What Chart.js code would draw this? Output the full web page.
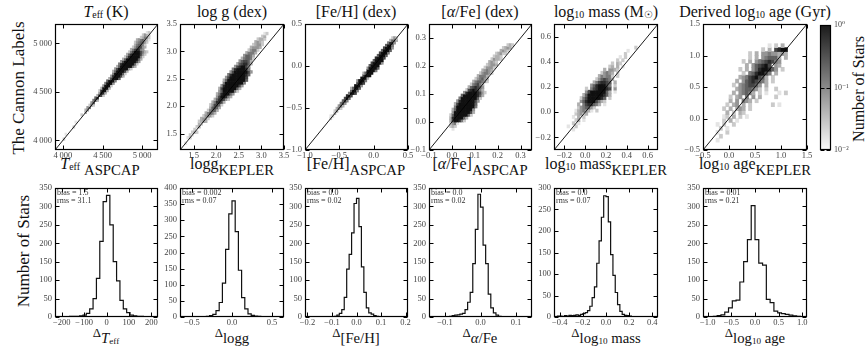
<!DOCTYPE html>
<html>
<head>
<meta charset="utf-8">
<script src="https://cdn.jsdelivr.net/npm/chart.js@4.4.1/dist/chart.umd.min.js"></script>
<style>
  body { margin: 0; background: #fff; }
  #page { position: relative; width: 866px; height: 354px; overflow: hidden; font-family: "Liberation Serif", "DejaVu Serif", serif; color: #111; }
  .box { position: absolute; }
  .t { position: absolute; transform: translateX(-50%); white-space: nowrap; font-size: 16px; line-height: 16px; }
  .v { position: absolute; transform: translate(-50%, -50%) rotate(-90deg); white-space: nowrap; font-size: 17px; line-height: 17px; }
  .note { position: absolute; font-size: 8px; line-height: 8px; color: #333; white-space: nowrap; }
  .sm { font-size: 0.62em; vertical-align: -0.12em; }
  .lg { font-size: 0.92em; vertical-align: -0.42em; }
  .d { font-size: 0.8em; }
</style>
</head>
<body>
<div id="page">
  <!-- titles -->
  <div class="t" style="left:106px;top:4px"><i>T</i><span class="sm">eff</span>&thinsp;(K)</div>
  <div class="t" style="left:232px;top:4px">log g (dex)</div>
  <div class="t" style="left:356px;top:4px">[Fe/H] (dex)</div>
  <div class="t" style="left:480px;top:4px">[<i>α</i>/Fe] (dex)</div>
  <div class="t" style="left:606px;top:4px">log<span class="sm">10</span> mass (M<span class="sm">☉</span>)</div>
  <div class="t" style="left:755px;top:4px">Derived log<span class="sm">10</span> age (Gyr)</div>

  <!-- top x labels -->
  <div class="t" style="left:100px;top:156px"><i>T</i><span class="sm">eff</span> <span class="lg">ASPCAP</span></div>
  <div class="t" style="left:232px;top:156px">logg<span class="lg">KEPLER</span></div>
  <div class="t" style="left:356px;top:156px">[Fe/H]<span class="lg">ASPCAP</span></div>
  <div class="t" style="left:480px;top:156px">[<i>α</i>/Fe]<span class="lg">ASPCAP</span></div>
  <div class="t" style="left:606px;top:156px">log<span class="sm">10</span> mass<span class="lg">KEPLER</span></div>
  <div class="t" style="left:755px;top:156px">log<span class="sm">10</span> age<span class="lg">KEPLER</span></div>

  <!-- bottom x labels -->
  <div class="t" style="left:106px;top:324px"><span class="d">Δ</span><span class="lg"><i>T</i><span class="sm">eff</span></span></div>
  <div class="t" style="left:232px;top:324px"><span class="d">Δ</span><span class="lg">logg</span></div>
  <div class="t" style="left:356px;top:324px"><span class="d">Δ</span><span class="lg">[Fe/H]</span></div>
  <div class="t" style="left:480px;top:324px"><span class="d">Δ</span><span class="lg"><i>α</i>/Fe</span></div>
  <div class="t" style="left:606px;top:324px"><span class="d">Δ</span><span class="lg">log<span class="sm">10</span> mass</span></div>
  <div class="t" style="left:755px;top:324px"><span class="d">Δ</span><span class="lg">log<span class="sm">10</span> age</span></div>

  <div class="v" style="left:18px;top:88px">The Cannon Labels</div>
  <div class="v" style="left:23px;top:251px">Number of Stars</div>
  <div class="v" style="left:858px;top:89px;font-size:16px">Number of Stars</div>
</div>
<script>
// ---------- top row: 2D histograms (runs: [yBin, firstXBin, levels 1-9, ' ' = empty]) ----------
const tEffRange = [3900, 5200], tEffBins = 52, tEffTicks = [4000, 4500, 5000];
const tEffRuns = [
  [4, 4, "2"], [6, 5, "1"], [9, 9, "2"], [11, 10, "1"], [14, 13, "2"], [15, 15, "3"],
  [16, 15, "34"], [17, 16, "45"], [18, 17, "252"], [19, 18, "46"], [20, 19, "573"], [21, 20, "68"],
  [22, 21, "3872"], [23, 22, "4983"], [24, 22, "28993"], [25, 23, "39993"], [26, 24, "49992"],
  [27, 25, "59994"], [28, 26, "69995"], [29, 27, "379996"], [30, 28, "4899973"], [31, 29, "5999962"],
  [32, 29, "36999973"], [33, 30, "479999942"], [34, 31, "3699999953"], [35, 32, "5899999962"],
  [36, 33, "4799999974"], [37, 34, "3699999963"], [38, 35, "2589999952"], [39, 36, "3689999742"],
  [40, 37, "2579997532"], [41, 38, "3578854"], [42, 39, "2467743"], [43, 40, "356652"],
  [44, 40, "2456642"], [45, 41, "3456431"], [46, 43, "23542"], [47, 44, "2432"], [48, 46, "12"]
];
const loggRange = [1.2, 3.5], loggBins = 46, loggTicks = [1.5, 2.0, 2.5, 3.0, 3.5];
const loggRuns = [
  [2, 2, "1"], [4, 3, "12"], [5, 4, "21"], [6, 5, "232"], [7, 6, "2"], [8, 7, "23"], [9, 8, "32"],
  [10, 8, "2343"], [11, 9, "3442"], [12, 10, "24542"], [13, 11, "35653"], [14, 12, "25663"],
  [15, 13, "36763"], [16, 13, "247762"], [17, 14, "358873"], [18, 15, "3688742"], [19, 16, "4799853"],
  [20, 16, "35899964"], [21, 17, "469999952"], [22, 17, "3799999963"], [23, 18, "4899999974"],
  [24, 19, "5999999995"], [25, 19, "36999999996"], [26, 20, "4799999997"], [27, 21, "5899999986"],
  [28, 22, "4799999974"], [29, 23, "58999985"], [30, 24, "4789974"], [31, 25, "3678863"],
  [32, 26, "467763"], [33, 27, "356652"], [34, 28, "46653"], [35, 29, "35553"], [36, 30, "24552"],
  [37, 31, "34443"], [38, 32, "23442"], [39, 33, "3432"], [40, 34, "2332"], [41, 36, "23"], [42, 37, "12"]
];
const fehRange = [-1.0, 0.5], fehBins = 50, fehTicks = [-1.0, -0.5, 0.0, 0.5];
const fehRuns = [
  [12, 12, "2"], [13, 12, "12"], [14, 14, "3"], [15, 14, "24"], [16, 15, "352"], [17, 16, "463"],
  [18, 17, "574"], [19, 18, "685"], [20, 19, "796"], [21, 20, "897"], [22, 21, "5997"], [23, 22, "6995"],
  [24, 22, "36996"], [25, 24, "9994"], [26, 25, "7997"], [27, 25, "49995"], [28, 27, "9993"],
  [29, 28, "7999"], [30, 28, "36999"], [31, 30, "99995"], [32, 30, "499996"], [33, 31, "69999"],
  [34, 32, "799994"], [35, 33, "69999"], [36, 34, "89997"], [37, 35, "69996"], [38, 36, "79995"],
  [39, 37, "69996"], [40, 38, "79994"], [41, 39, "6995"], [42, 40, "5884"], [43, 41, "3663"], [44, 42, "242"]
];
const alphaRange = [-0.1, 0.35], alphaBins = 45, alphaTicks = [-0.1, 0.0, 0.1, 0.2, 0.3];
const alphaRuns = [
  [7, 10, "1"], [8, 9, "232"], [9, 9, "2451"], [10, 9, "3799852"], [11, 9, "38999963"],
  [12, 9, "2699999962"], [13, 10, "4999999973"], [14, 10, "3699999994"], [15, 11, "5999999995"],
  [16, 11, "3799999996"], [17, 12, "4899999974"], [18, 13, "5999999962"], [19, 14, "6999999863"],
  [20, 15, "4899998742"], [21, 16, "27898753"], [22, 17, "3678764"], [23, 18, "256753"],
  [24, 19, "3566542"], [25, 20, "245643"], [26, 21, "35553"], [27, 22, "245542"], [28, 23, "34543"],
  [29, 24, "24442"], [30, 25, "23443"], [31, 26, "3432"], [32, 27, "24332"], [33, 28, "2332"],
  [34, 29, "23422"], [35, 31, "3432"], [36, 32, "2343"], [37, 34, "232"]
];
const massRange = [-0.3, 0.7], massBins = 40, massTicks = [-0.2, 0.0, 0.2, 0.4, 0.6];
const massRuns = [
  [6, 7, "1"], [7, 5, "1  2"], [8, 7, "2 1"], [9, 8, "23 1"], [10, 7, "1 3 2"], [11, 8, "23423"],
  [12, 8, "1345431 2"], [13, 9, "2456642"], [14, 9, "3 5788653 1"], [15, 10, "4689997532"],
  [16, 10, "2579999986 2"], [17, 11, "36999999863"], [18, 12, "4799999963 1"], [19, 12, "2 57899987 4"],
  [20, 14, "46899975 2"], [21, 15, "3578876 3"], [22, 16, "2467653"], [23, 17, "354552 2"],
  [24, 18, "24543 2"], [25, 19, "3 4432"], [26, 21, "23 3 1"], [27, 22, "2 32"], [28, 24, "2 2"],
  [29, 25, "1 2"], [30, 27, "2"], [31, 28, "1"], [32, 31, "2"]
];
const ageRange = [-0.5, 1.5], ageBins = 32, ageTicks = [-0.5, 0.0, 0.5, 1.0, 1.5];
const ageRuns = [
  [2, 4, "1"], [3, 5, "2"], [4, 4, "1  2"], [5, 5, "2 1"], [6, 4, "1 2  2"], [7, 6, "2 3 1"],
  [8, 6, "12 3 2 1"], [9, 7, "3 2 32"], [10, 6, "2 3 343 2"], [11, 7, "2 34 3 2"], [11, 21, "2 1"],
  [12, 8, "3 4 543 2"], [13, 8, "2 34 5 4 3"], [13, 22, "2"], [14, 9, "3 45653 2 1"], [14, 23, "1 2"],
  [15, 10, "34566542 2"], [15, 22, "2"], [16, 9, "2 4567764 3"], [17, 10, "3 46787653 2"],
  [18, 11, "345789763 2"], [19, 12, "2 5689975 3"], [20, 11, "2 3 46899864 2"], [21, 13, "3 467897 43"],
  [22, 12, "2 3 45678754"], [23, 14, "2 3 456663 3"], [24, 14, "2 3 44544343"], [25, 18, "2 3 7899"],
  [26, 20, "1 2 3"]
];

// ---------- bottom row: residual histograms ----------
const dTeffStart = -225, dTeffWidth = 15, dTeffTicks = [-200, -100, 0, 100, 200];
const dTeffCounts = [0, 0, 0, 1, 2, 2, 2, 3, 5, 10, 22, 50, 105, 205, 313, 330, 250, 150, 98, 45, 22, 12, 5, 3, 2, 2, 1, 1, 1, 0];
const dLoggStart = -0.64, dLoggWidth = 0.04, dLoggTicks = [-0.5, 0.0, 0.5];
const dLoggCounts = [0, 0, 0, 0, 0, 0, 0, 1, 2, 4, 8, 20, 45, 105, 210, 320, 360, 265, 145, 60, 25, 10, 5, 3, 2, 1, 1, 0, 0, 0, 0, 0];
const dFehStart = -0.21, dFehWidth = 0.01, dFehTicks = [-0.2, -0.1, 0.0, 0.1, 0.2];
const dFehCounts = [0, 0, 0, 0, 0, 0, 0, 0, 0, 0, 0, 1, 2, 5, 10, 20, 53, 130, 170, 228, 308, 322, 245, 136, 67, 25, 11, 8, 4, 2, 1, 0, 0, 0, 0, 0, 0, 0, 0, 0, 0, 0];
const dAlphaStart = -0.145, dAlphaWidth = 0.00725, dAlphaTicks = [-0.1, 0.0, 0.1];
const dAlphaCounts = [0, 0, 0, 0, 0, 0, 0, 1, 2, 4, 5, 6, 8, 10, 20, 40, 67, 145, 238, 333, 298, 195, 145, 62, 25, 11, 5, 2, 1, 0, 0, 0, 0, 0, 0, 0, 0, 0, 0, 0];
const dMassStart = -0.44, dMassWidth = 0.02, dMassTicks = [-0.4, -0.2, 0.0, 0.2, 0.4];
const dMassCounts = [0, 2, 2, 1, 3, 2, 4, 3, 4, 5, 4, 6, 8, 10, 15, 25, 45, 70, 125, 177, 232, 282, 280, 221, 145, 97, 57, 29, 13, 6, 4, 3, 2, 1, 1, 0, 0, 0, 0, 0, 0, 0, 0, 0];
const dAgeStart = -1.04, dAgeWidth = 0.08, dAgeTicks = [-1.0, -0.5, 0.0, 0.5, 1.0];
const dAgeCounts = [0, 1, 2, 4, 6, 13, 25, 44, 46, 95, 150, 210, 302, 210, 146, 141, 48, 39, 16, 11, 9, 7, 5, 3, 2, 1];
const count350 = [0, 50, 100, 150, 200, 250, 300, 350];
const count400 = [0, 50, 100, 150, 200, 250, 300, 350, 400];
const count300 = [0, 50, 100, 150, 200, 250, 300];
const stats = [["1.5", "31.1"], ["0.002", "0.07"], ["0.0", "0.02"], ["0.0", "0.02"], ["0.0", "0.07"], ["0.01", "0.21"]];

// colour bar
const cbTicks = [0.01, 0.1, 1], cbLabels = ["10⁻²", "10⁻¹", "10⁰"];

// ---------- layout ----------
const cols = [[55, 158], [180, 284], [305, 408], [429, 532], [554, 658], [703, 807]];
const topY = [24, 150], botY = [188, 317];
const PL = 28, PT = 6, PR = 12, PB = 14;
const page = document.getElementById('page');

Chart.defaults.font.family = "'Liberation Serif', 'DejaVu Serif', serif";
Chart.defaults.font.size = 8.5;
Chart.defaults.color = '#444';

const fK = v => String(v).replace(/(\d)(\d{3})$/, '$1\u2009$2');
const f0 = v => String(v).replace('-', '\u2212');
const f1 = v => v.toFixed(1).replace('-', '\u2212');

function place(x0, y0, x1, y1, pl, pt, pr, pb) {
  const div = document.createElement('div');
  div.className = 'box';
  div.style.left = (x0 - pl) + 'px';
  div.style.top = (y0 - pt) + 'px';
  const cv = document.createElement('canvas');
  cv.width = x1 - x0 + pl + pr;
  cv.height = y1 - y0 + pt + pb;
  div.appendChild(cv);
  page.appendChild(div);
  return cv;
}

// box + inward ticks on all four sides, like the matplotlib frame
const frame = {
  id: 'frame',
  afterDraw(chart) {
    const {ctx, chartArea: a} = chart;
    const L = Math.round(a.left) + 0.5, R = Math.round(a.right) - 0.5;
    const T = Math.round(a.top) + 0.5, B = Math.round(a.bottom) - 0.5;
    ctx.save();
    ctx.strokeStyle = '#000';
    ctx.lineWidth = 1;
    ctx.beginPath();
    ['x', 'y'].forEach(id => {
      const s = chart.scales[id];
      if (!s || s.options.display === false) return;
      s.ticks.forEach(t => {
        const p = Math.round(s.getPixelForValue(t.value)) + 0.5;
        if (id === 'x') { ctx.moveTo(p, B); ctx.lineTo(p, B - 4); ctx.moveTo(p, T); ctx.lineTo(p, T + 4); }
        else { ctx.moveTo(L, p); ctx.lineTo(L + 4, p); ctx.moveTo(R, p); ctx.lineTo(R - 4, p); }
      });
    });
    ctx.stroke();
    ctx.lineWidth = 1.2;
    ctx.strokeRect(L, T, R - L, B - T);
    ctx.restore();
  }
};

function axis(min, max, ticks, fmt, horiz) {
  return {
    type: 'linear', min, max, offset: false,
    grid: {display: false, drawTicks: false}, border: {display: false},
    ticks: {autoSkip: false, maxRotation: 0, minRotation: 0, padding: horiz ? 1 : 3, callback: v => fmt(v)},
    afterBuildTicks: s => { s.ticks = ticks.map(v => ({value: v})); },
    afterFit: s => {
      if (horiz) s.height = PB; else s.width = PL;
      s.paddingLeft = s.paddingRight = s.paddingTop = s.paddingBottom = 0;
    }
  };
}

function baseOptions(xs, ys) {
  return {
    responsive: false, animation: false, events: [],
    layout: {padding: {left: 0, top: PT, right: PR, bottom: 0}},
    plugins: {legend: {display: false}, tooltip: {enabled: false}},
    scales: {x: xs, y: ys}
  };
}

const shade = lev => { const g = Math.round(255 * (1 - lev / 9.6)); return `rgb(${g},${g},${g})`; };

function heat(col, range, n, runs, ticks, fmt) {
  const [x0, x1] = cols[col];
  const cv = place(x0, topY[0], x1, topY[1], PL, PT, PR, PB);
  const [lo, hi] = range, w = (hi - lo) / n;
  const cells = [];
  runs.forEach(([r, c, s]) => [...s].forEach((ch, j) => {
    if (ch !== ' ') cells.push({x: lo + (c + j + 0.5) * w, y: [lo + r * w, lo + (r + 1) * w], lev: +ch});
  }));
  new Chart(cv, {
    type: 'bar',
    data: {datasets: [
      {type: 'bar', data: cells, backgroundColor: cells.map(c => shade(c.lev)), borderWidth: 0,
       barPercentage: 1, categoryPercentage: 1, order: 2},
      {type: 'line', data: [{x: lo, y: lo}, {x: hi, y: hi}], borderColor: '#000', borderWidth: 0.9,
       pointRadius: 0, order: 1}
    ]},
    options: baseOptions(axis(lo, hi, ticks, fmt, true), axis(lo, hi, ticks, fmt, false)),
    plugins: [frame]
  });
}

function hist(col, xr, xt, fmt, yt, start, width, counts, st) {
  const [x0, x1] = cols[col];
  const cv = place(x0, botY[0], x1, botY[1], PL, PT, PR, PB);
  const pts = [{x: start, y: 0}];
  counts.forEach((c, i) => pts.push({x: start + i * width, y: c}));
  const end = start + counts.length * width;
  pts.push({x: end, y: counts[counts.length - 1]}, {x: end, y: 0});
  new Chart(cv, {
    type: 'line',
    data: {datasets: [{data: pts, stepped: 'before', borderColor: '#111', borderWidth: 1.2, pointRadius: 0, fill: false}]},
    options: baseOptions(axis(xr[0], xr[1], xt, fmt, true), axis(0, yt[yt.length - 1], yt, f0, false)),
    plugins: [frame]
  });
  const n = document.createElement('div');
  n.className = 'note';
  n.style.left = (x0 + 2) + 'px';
  n.style.top = (botY[0] + 1) + 'px';
  n.innerHTML = `bias = ${st[0]}<br>rms = ${st[1]}`;
  page.appendChild(n);
}

heat(0, tEffRange, tEffBins, tEffRuns, tEffTicks, fK);
heat(1, loggRange, loggBins, loggRuns, loggTicks, f1);
heat(2, fehRange, fehBins, fehRuns, fehTicks, f1);
heat(3, alphaRange, alphaBins, alphaRuns, alphaTicks, f1);
heat(4, massRange, massBins, massRuns, massTicks, f1);
heat(5, ageRange, ageBins, ageRuns, ageTicks, f1);

hist(0, [-230, 230], dTeffTicks, f0, count350, dTeffStart, dTeffWidth, dTeffCounts, stats[0]);
hist(1, [-0.65, 0.65], dLoggTicks, f1, count400, dLoggStart, dLoggWidth, dLoggCounts, stats[1]);
hist(2, [-0.21, 0.21], dFehTicks, f1, count350, dFehStart, dFehWidth, dFehCounts, stats[2]);
hist(3, [-0.145, 0.145], dAlphaTicks, f1, count350, dAlphaStart, dAlphaWidth, dAlphaCounts, stats[3]);
hist(4, [-0.45, 0.45], dMassTicks, f1, count300, dMassStart, dMassWidth, dMassCounts, stats[4]);
hist(5, [-1.1, 1.1], dAgeTicks, f1, count350, dAgeStart, dAgeWidth, dAgeCounts, stats[5]);

// colour bar
(function () {
  const cv = place(820, 25, 831, 150, 4, 6, 30, 6);
  new Chart(cv, {
    type: 'bar',
    data: {labels: [''], datasets: [{
      data: [[cbTicks[0], cbTicks[cbTicks.length - 1]]], borderWidth: 0, barPercentage: 1, categoryPercentage: 1,
      backgroundColor: c => {
        const a = c.chart.chartArea;
        if (!a) return '#888';
        const g = c.chart.ctx.createLinearGradient(0, a.bottom, 0, a.top);
        g.addColorStop(0, '#fafafa');
        g.addColorStop(1, '#1a1a1a');
        return g;
      }
    }]},
    options: {
      responsive: false, animation: false, events: [],
      layout: {padding: {left: 4, top: 6, right: 0, bottom: 6}},
      plugins: {legend: {display: false}, tooltip: {enabled: false}},
      scales: {
        x: {display: false},
        y: {
          type: 'logarithmic', position: 'right', min: cbTicks[0], max: cbTicks[cbTicks.length - 1],
          grid: {display: false, drawTicks: false}, border: {display: false},
          ticks: {autoSkip: false, padding: 3, font: {size: 8}, callback: v => cbLabels[cbTicks.indexOf(v)] ?? ''},
          afterBuildTicks: s => { s.ticks = cbTicks.map(v => ({value: v})); },
          afterFit: s => { s.width = 30; s.paddingTop = s.paddingBottom = 0; }
        }
      }
    },
    plugins: [frame]
  });
})();
</script>
</body>
</html>
